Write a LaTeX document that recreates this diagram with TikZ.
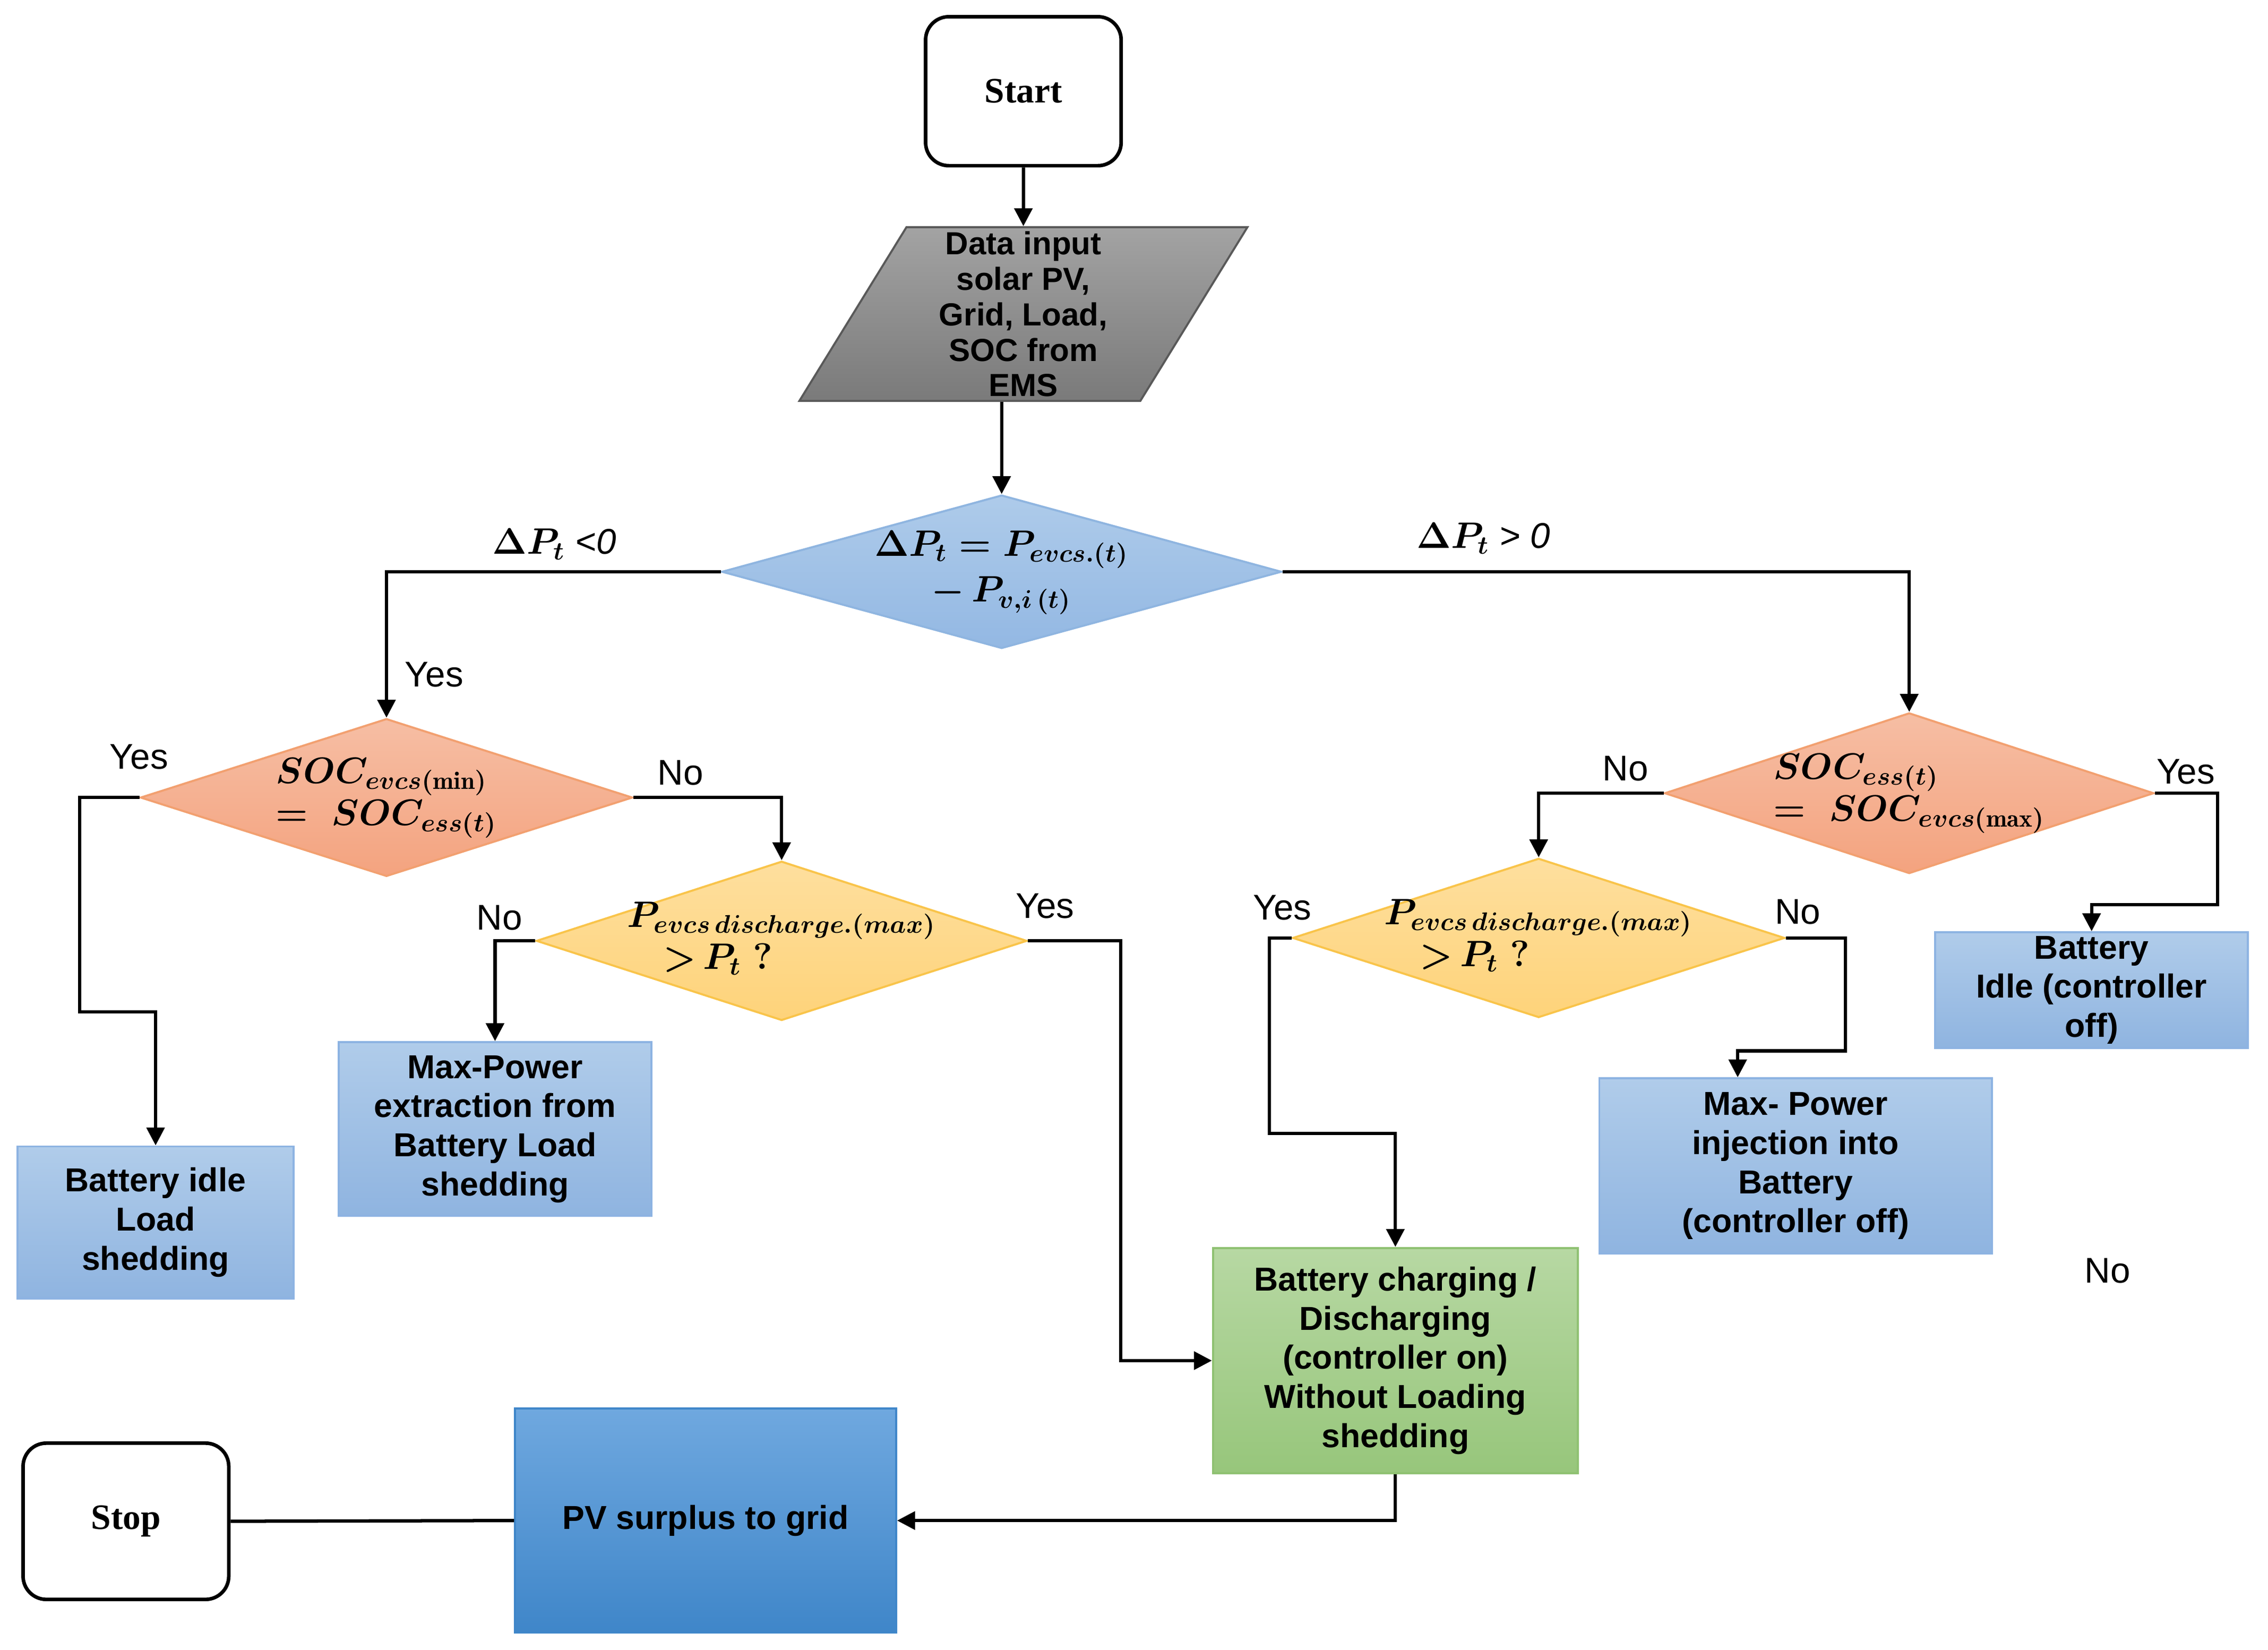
\documentclass[tikz,border=0pt]{standalone}
\usepackage{amsmath}
\usepackage{bm}
\usepackage{fontspec}
\setsansfont{Liberation Sans}
\newfontfamily\termfont{Liberation Serif}
\usepackage{tikz}
\usetikzlibrary{shapes.geometric}
\usetikzlibrary{positioning, calc, arrows.meta}
\usepackage{xcolor}

\definecolor{boxtop}{HTML}{B0CCEA}
\definecolor{boxbot}{HTML}{8FB4E0}
\definecolor{boxline}{HTML}{8DB3E2}
\definecolor{pvtop}{HTML}{6FA8DF}
\definecolor{pvbot}{HTML}{3F86C9}
\definecolor{greentop}{HTML}{B7D8A3}
\definecolor{greenbot}{HTML}{97C67B}
\definecolor{greenline}{HTML}{8FC172}
\definecolor{socttop}{HTML}{F6BEA4}
\definecolor{socbot}{HTML}{F4A37F}
\definecolor{socline}{HTML}{F2A070}
\definecolor{distop}{HTML}{FEDF9E}
\definecolor{disbot}{HTML}{FED37A}
\definecolor{disline}{HTML}{F9C44A}
\definecolor{calctop}{HTML}{AECBEA}
\definecolor{calcbot}{HTML}{93B8E3}
\definecolor{calcline}{HTML}{8FB5E0}
\definecolor{datatop}{HTML}{A3A3A3}
\definecolor{databot}{HTML}{7A7A7A}

\newcommand{\dtext}[1]{\makebox[0pt]{$\begin{array}{l}#1\end{array}$}}
\newcommand{\ctext}[1]{\makebox[0pt]{$\begin{array}{c}#1\end{array}$}}

\begin{document}
\begin{tikzpicture}[x=0.01991cm, y=-0.01991cm,
  terminal/.style={rectangle, rounded corners=0.32cm, draw=black, line width=1.4pt, fill=white, font=\termfont\bfseries\fontsize{14}{16}\selectfont},
  datain/.style={trapezium, trapezium left angle=65, trapezium right angle=115, trapezium stretches=true, draw=black!65, line width=0.8pt, top color=datatop, bottom color=databot, inner sep=0pt, align=center, font=\sffamily\bfseries\fontsize{12.5}{13.9}\selectfont},
  calc/.style={diamond, aspect=3.6, inner sep=0pt, draw=calcline, line width=0.8pt, top color=calctop, bottom color=calcbot, font=\fontsize{14}{15}\selectfont\boldmath},
  socdec/.style={diamond, aspect=3, inner sep=0pt, draw=socline, line width=0.8pt, top color=socttop, bottom color=socbot, font=\fontsize{14}{14.5}\selectfont\boldmath},
  disdec/.style={diamond, aspect=3, inner sep=0pt, draw=disline, line width=0.8pt, top color=distop, bottom color=disbot, font=\fontsize{14}{14.5}\selectfont\boldmath},
  action/.style={rectangle, draw=boxline, line width=0.8pt, top color=boxtop, bottom color=boxbot, inner sep=0pt, align=center, font=\sffamily\bfseries\fontsize{13}{15.3}\selectfont},
  result/.style={rectangle, draw=greenline, line width=0.8pt, top color=greentop, bottom color=greenbot, inner sep=0pt, align=center, font=\sffamily\bfseries\fontsize{13}{15.3}\selectfont},
  surplus/.style={rectangle, draw=pvbot, line width=0.8pt, top color=pvtop, bottom color=pvbot, inner sep=0pt, align=center, font=\sffamily\bfseries\fontsize{13}{15.3}\selectfont},
  lbl/.style={inner sep=1pt, font=\sffamily\fontsize{14}{16}\selectfont},
  line/.style={draw=black, line width=1.3pt},
  arrow/.style={line, -{Triangle[length=7pt, width=7pt]}}
]
    \useasboundingbox (0cm,0cm) rectangle (31.2cm,-22.692cm);

    % Start and data input
    \node[terminal, minimum width=2.69cm, minimum height=2.05cm] (start) at (707,63) {Start};
    \node[datain, minimum width=6.17cm, minimum height=2.39cm] (data) at (707,217) {Data input\\solar PV,\\Grid, Load,\\SOC from\\EMS};

    % Power balance
    \node[calc, minimum width=7.7cm, minimum height=2.11cm] (dp) at (692,395)
        {\ctext{\Delta P_t = P_{evcs.(t)}\\[3pt] -\,P_{v,i\,(t)}}};

    % SOC checks
    \node[socdec, minimum width=6.77cm, minimum height=2.17cm] (socmin) at (267,551)
        {\dtext{SOC_{evcs(\mathrm{min})}\\[2pt] =\;SOC_{ess(t)}}};
    \node[socdec, minimum width=6.73cm, minimum height=2.21cm] (socmax) at (1319,548)
        {\dtext{SOC_{ess(t)}\\[2pt] =\;SOC_{evcs(\mathrm{max})}}};

    % Discharge checks
    \node[disdec, minimum width=6.75cm, minimum height=2.19cm] (disl) at (540,650)
        {\dtext{P_{evcs\,discharge.(max)}\\[2pt] \quad{>}\,P_t\ ?}};
    \node[disdec, minimum width=6.77cm, minimum height=2.19cm] (disr) at (1063,648)
        {\dtext{P_{evcs\,discharge.(max)}\\[2pt] \quad{>}\,P_t\ ?}};

    % Actions
    \node[action, minimum width=3.8cm, minimum height=2.09cm] (idlel) at (107.5,844.5) {Battery idle\\Load\\shedding};
    \node[action, minimum width=4.3cm, minimum height=2.39cm] (extract) at (342,780) {Max-Power\\extraction from\\Battery Load\\shedding};
    \node[action, minimum width=4.3cm, minimum height=1.59cm] (idler) at (1445,684) {Battery\\Idle (controller\\off)};
    \node[action, minimum width=5.4cm, minimum height=2.41cm] (inject) at (1240.5,805.5) {Max- Power\\injection into\\Battery\\(controller off)};
    \node[result, minimum width=5.02cm, minimum height=3.1cm] (charge) at (964,940) {Battery charging /\\Discharging\\(controller on)\\Without Loading\\shedding};
    \node[surplus, minimum width=5.24cm, minimum height=3.08cm] (pv) at (487.5,1050.5) {PV surplus to grid};
    \node[terminal, minimum width=2.83cm, minimum height=2.15cm] (stop) at (87,1051) {Stop};

    % Bends
    \coordinate (kidle) at (55,699);
    \coordinate (kidler) at (1532,625);
    \coordinate (kcharge) at (877,783);
    \coordinate (kinject) at (1275,726);

    % Connectors
    \draw[arrow] (start) -- (data);
    \draw[arrow] (data.south -| dp.north) -- (dp.north);
    \draw[arrow] (dp.west) -| (socmin.north);
    \draw[arrow] (dp.east) -| (socmax.north);
    \draw[arrow] (socmin.west) -| (kidle) -| (idlel.north);
    \draw[arrow] (socmin.east) -| (disl.north);
    \draw[arrow] (disl.west) -| (extract.north);
    \draw[arrow] (disl.east) -| ($(charge.west)+(-63,0)$) -- (charge.west);
    \draw[arrow] (socmax.west) -| (disr.north);
    \draw[arrow] (socmax.east) -| (kidler) -| (idler.north);
    \draw[arrow] (disr.west) -| (kcharge) -| (charge.north);
    \draw[arrow] (disr.east) -| (kinject) -| ($(inject.north)+(-40,0)$);
    \draw[arrow] (charge.south) |- (pv.east);
    \draw[line] (pv.west) -- (stop.east);

    % Labels
    \node[lbl] (lneg) at (383,376) {$\boldsymbol{\Delta P_t}$ \textit{<0}};
    \node[lbl] (lpos) at (1025,372) {$\boldsymbol{\Delta P_t}$ \textit{> 0}};
    \node[lbl] (ly1) at (300,466) {Yes};
    \node[lbl] (ly2) at (96,523) {Yes};
    \node[lbl] (ln1) at (470,534) {No};
    \node[lbl] (ln2) at (345,634) {No};
    \node[lbl] (ly3) at (722,626) {Yes};
    \node[lbl] (ln3) at (1123,531) {No};
    \node[lbl] (ly4) at (1510,533) {Yes};
    \node[lbl] (ly5) at (886,627) {Yes};
    \node[lbl] (ln4) at (1242,630) {No};
    \node[lbl] (ln5) at (1456,878) {No};

\end{tikzpicture}
\end{document}
